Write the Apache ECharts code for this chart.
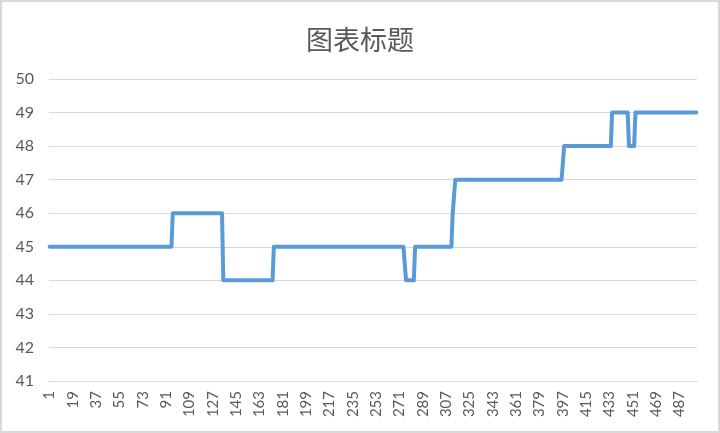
<!DOCTYPE html>
<html>
<head>
<meta charset="utf-8">
<script src="https://cdn.jsdelivr.net/npm/echarts@6/dist/echarts.min.js"></script>
<style>
html,body{margin:0;padding:0;background:#fff;}
#chart{width:720px;height:433px;box-sizing:border-box;border:2px solid #d9d9d9;}
</style>
</head>
<body>
<div id="chart"></div>
<script>
// Chart title
const titleText = '图表标题';
// Step levels, with the last category (1-based) of each level
const levelValues = [45, 46, 44, 45, 44, 45, 46, 47, 48, 49, 48, 49];
const levelEnds   = [95, 134, 173, 275, 282, 311, 313, 397, 434, 447, 452, 500];
// Y axis range
const yMin = 41, yMax = 50, yStep = 1;
// X tick label spacing (every 18th category: 1, 19, 37, ...)
const xLabelEvery = 18;

const categories = [];
const values = [];
let start = 1;
for (let s = 0; s < levelValues.length; s++) {
  for (let i = start; i <= levelEnds[s]; i++) {
    categories.push(String(i));
    values.push(levelValues[s]);
  }
  start = levelEnds[s] + 1;
}

const chart = echarts.init(document.getElementById('chart'), null, {renderer: 'canvas'});
chart.setOption({
  animation: false,
  backgroundColor: '#fff',
  title: {
    text: titleText,
    left: 'center',
    top: 19,
    textStyle: {
      fontFamily: '"Noto Sans CJK SC", sans-serif',
      fontSize: 27,
      fontWeight: 'normal',
      color: '#595959'
    }
  },
  grid: {left: 47, right: 21, top: 77, bottom: 50, containLabel: false},
  xAxis: {
    type: 'category',
    data: categories,
    boundaryGap: true,
    axisLine: {show: true, lineStyle: {color: '#d9d9d9', width: 1}},
    axisTick: {show: false},
    axisLabel: {
      interval: xLabelEvery - 1,
      rotate: 90,
      margin: 10,
      fontFamily: 'Lato, sans-serif',
      fontSize: 15,
      color: '#595959'
    },
    splitLine: {show: false}
  },
  yAxis: {
    type: 'value',
    min: yMin,
    max: yMax,
    interval: yStep,
    axisLine: {show: false},
    axisTick: {show: false},
    axisLabel: {
      margin: 15,
      fontFamily: 'Lato, sans-serif',
      fontSize: 16,
      color: '#595959'
    },
    splitLine: {show: true, lineStyle: {color: '#d9d9d9', width: 1}}
  },
  series: [{
    type: 'line',
    data: values,
    showSymbol: false,
    symbol: 'none',
    lineStyle: {color: '#5b9bd5', width: 4, join: 'round', cap: 'round'},
    itemStyle: {color: '#5b9bd5'}
  }]
});
</script>
</body>
</html>
